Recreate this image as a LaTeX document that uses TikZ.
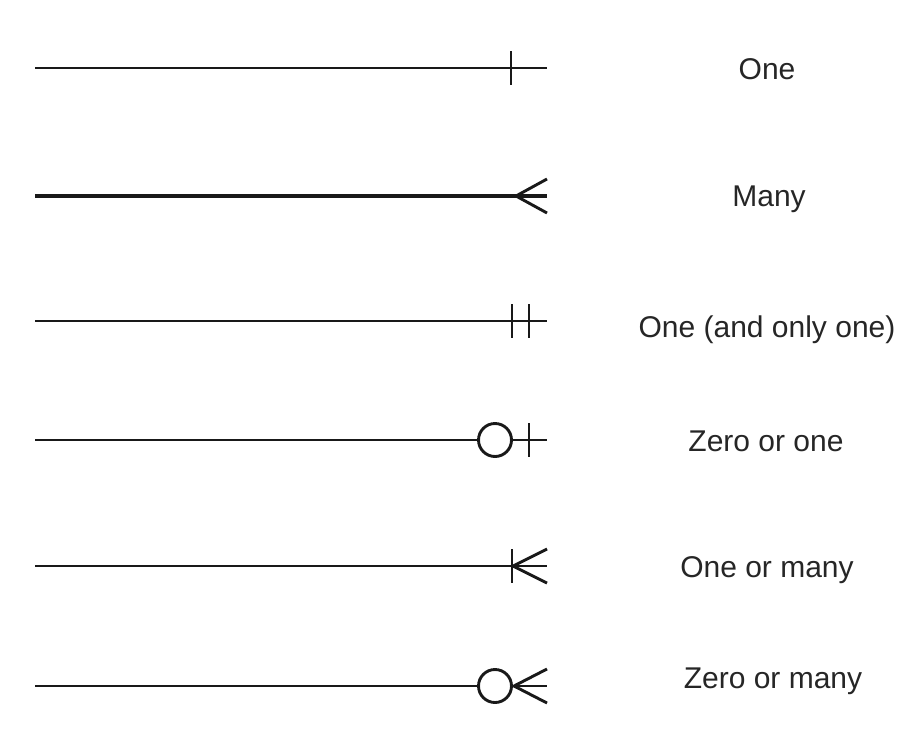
\documentclass[tikz,border=0pt]{standalone}
\usepackage{fontspec}
\setmainfont{Liberation Sans}
\begin{document}
\begin{tikzpicture}[x=1pt,y=-1pt,
  rel/.style={line width=2.9pt,black!90},
  relthick/.style={line width=3.6pt,black!90},
  lbl/.style={font=\fontsize{30}{36}\selectfont,text=black!85,inner sep=0pt},
  zcirc/.style={circle,draw=black!90,line width=2.9pt,minimum size=33pt,inner sep=0pt}]
\useasboundingbox (0,0) rectangle (920,744);
% Row 1: One
\coordinate (a1) at (35,68); \coordinate (b1) at (547,68);
\draw[rel] (a1) -- (b1);
\draw[rel] (511,51) -- (511,85);
\node[lbl] (t1) at (767,69) {One};
% Row 2: Many
\coordinate (a2) at (35,196); \coordinate (b2) at (547,196);
\coordinate (v2) at (516,196);
\draw[relthick] (a2) -- (b2);
\draw[rel] (547,179) -- (v2) -- (547,213);
\node[lbl] (t2) at (769,199) {Many};
% Row 3: One (and only one)
\coordinate (a3) at (35,321); \coordinate (b3) at (547,321);
\draw[rel] (a3) -- (b3);
\draw[rel] (512,304) -- (512,338);
\draw[rel] (529,304) -- (529,338);
\node[lbl] (t3) at (767,330) {One (and only one)};
% Row 4: Zero or one
\coordinate (a4) at (35,440); \coordinate (b4) at (547,440);
\node[zcirc] (c4) at (495,440) {};
\draw[rel] (a4) -- (c4.west);
\draw[rel] (c4.east) -- (b4);
\draw[rel] (529,423) -- (529,457);
\node[lbl] (t4) at (766,441) {Zero or one};
% Row 5: One or many
\coordinate (a5) at (35,566); \coordinate (b5) at (547,566);
\coordinate (v5) at (513,566);
\draw[rel] (a5) -- (b5);
\draw[rel] (512,549) -- (512,583);
\draw[rel] (547,549) -- (v5) -- (547,583);
\node[lbl] (t5) at (767,570) {One or many};
% Row 6: Zero or many
\coordinate (a6) at (35,686); \coordinate (b6) at (547,686);
\coordinate (v6) at (514,686);
\node[zcirc] (c6) at (495,686) {};
\draw[rel] (a6) -- (c6.west);
\draw[rel] (c6.east) -- (b6);
\draw[rel] (547,669) -- (v6) -- (547,703);
\node[lbl] (t6) at (773,681) {Zero or many};
\end{tikzpicture}
\end{document}
